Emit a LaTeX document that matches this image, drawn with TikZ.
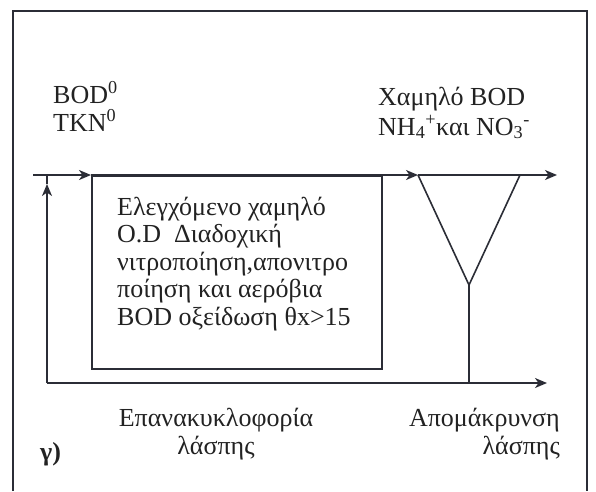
\documentclass[tikz,border=0pt]{standalone}
\usepackage{fontspec}
\setmainfont{Liberation Serif}
\usetikzlibrary{arrows.meta}
\definecolor{ink}{HTML}{2B2D36}
\definecolor{txt}{HTML}{222222}
\tikzset{
  wire/.style={draw=ink, line width=1.6pt},
  flow/.style={wire, -{Stealth[length=12pt,width=10pt,inset=3.5pt]}},
  lbl/.style={inner sep=0pt, text=txt, font=\fontsize{26}{28}\selectfont},
  tank/.style={draw=ink, line width=1.6pt, inner sep=0pt}
}
\begin{document}
\begin{tikzpicture}[x=1pt,y=-1pt]
\useasboundingbox (0,0) rectangle (596,491);
% outer frame, open at the bottom
\draw[wire] (13,491) -- (13,11) -- (587,11) -- (587,491);

% points of the flow lines
\coordinate (in)    at (33,175);
\coordinate (clIn)  at (418,175);
\coordinate (effl)  at (557,175);
\coordinate (clBot) at (469,285);
\coordinate (clR)   at (520,175);
\coordinate (rasJ)  at (469,383);
\coordinate (rasL)  at (47,383);
\coordinate (rasUp) at (47,184);
\coordinate (rasT)  at (47,175);
\coordinate (wasE)  at (547,383);

% reactor
\node[tank, minimum width=290pt, minimum height=193pt, anchor=north west] (reactor) at (91,175) {};

% influent line through to the effluent
\draw[flow] (in) -- (reactor.north west);
\draw[flow] (reactor.north west) -- (clIn);
\draw[flow] (clIn) -- (effl);

% clarifier
\draw[wire] (clIn) -- (clBot) -- (clR);
\draw[wire] (clBot) -- (rasJ);

% sludge return and wasting
\draw[flow] (rasL) -- (rasUp);
\draw[wire] (rasUp) -- (rasT);
\draw[flow] (rasL) -- (wasE);

% labels (base anchor sits on the last line)
\node[lbl, anchor=base west, align=left] (infl) at (53,131)
  {BOD\textsuperscript{0}\\TKN\textsuperscript{0}};
\node[lbl, anchor=base west, align=left, font=\fontsize{26}{30}\selectfont] (efflTxt) at (378,135)
  {Χαμηλό BOD\\NH\textsubscript{4}\textsuperscript{+}και NO\textsubscript{3}\textsuperscript{-}};
\node[lbl, anchor=base west, align=left, font=\fontsize{26}{27.5}\selectfont] (reactTxt) at (117,325)
  {Ελεγχόμενο χαμηλό\\O.D\ \ Διαδοχική\\νιτροποίηση,απονιτρο\\ποίηση και αερόβια\\BOD οξείδωση θx>15};
\node[lbl, anchor=base, align=center] (rasTxt) at (216,454)
  {Επανακυκλοφορία\\λάσπης};
\node[lbl, anchor=base east, align=right] (wasTxt) at (560,454)
  {Απομάκρυνση\\λάσπης};
\node[lbl, anchor=base west, font=\fontsize{26}{28}\selectfont\bfseries] (tag) at (40,460) {γ)};
\end{tikzpicture}
\end{document}
